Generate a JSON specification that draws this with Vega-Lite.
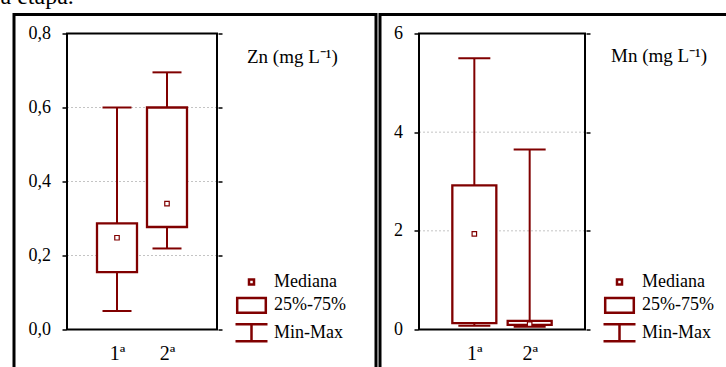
{
  "$schema": "https://vega.github.io/schema/vega-lite/v6.json",
  "background": "white",
  "padding": {"left": 0, "top": -15.5, "right": 0, "bottom": 0},
  "title": {"text": "a etapa.", "anchor": "start", "font": "Liberation Serif", "fontSize": 24, "fontWeight": "normal", "offset": 4, "dx": -12, "color": "black"},
  "spacing": 0,
  "resolve": {"scale": {"x": "independent", "y": "independent", "shape": "independent"}, "legend": {"shape": "independent"}},
  "config": {
    "font": "Liberation Serif",
    "view": {"fill": "#fdf8ed", "stroke": "black", "strokeWidth": 3},
    "axis": {"domain": false, "grid": false, "tickColor": "black", "tickWidth": 1.5, "tickSize": -4, "labelFont": "Liberation Serif", "labelColor": "black", "labelFontSize": 18, "zindex": 1, "labelOverlap": false, "labelFlush": false},
    "legend": {"orient": "none", "title": null, "symbolSize": 400, "symbolStrokeColor": "#800000", "symbolFillColor": "transparent", "symbolStrokeWidth": 2.5, "labelFont": "Liberation Serif", "labelFontSize": 18, "labelColor": "black", "labelOffset": 11, "rowPadding": 1.4, "padding": 0}
  },
  "hconcat": [
    {
      "width": 362,
      "height": 370,
      "resolve": {"axis": {"x": "independent", "y": "independent"}},
      "layer": [
        {
          "data": {"values": [{"panel": "Zn"}]},
          "mark": {"type": "rect", "fill": "white"},
          "encoding": {
            "x": {"datum": 0, "type": "quantitative", "scale": {"domain": [0, 3], "range": [48, 208], "nice": false, "zero": false},
                  "axis": {"orient": "bottom", "offset": -55, "values": [1, 2], "labelExpr": "datum.value == 1 ? '1ª' : '2ª'", "labelFontSize": 20, "labelPadding": 18, "title": null}},
            "x2": {"datum": 3},
            "y": {"datum": 0, "type": "quantitative", "scale": {"domain": [0, 0.8], "range": [315, 19], "nice": false, "zero": false},
                  "axis": {"orient": "left", "offset": -48, "values": [0, 0.2, 0.4, 0.6, 0.8], "labelExpr": "replace(format(datum.value, '.1f'), '.', ',')", "labelPadding": 15.5, "title": null}},
            "y2": {"datum": 0.8}
          }
        },
        {
          "data": {"values": [{"g": 0.2}, {"g": 0.4}, {"g": 0.6}]},
          "mark": {"type": "rule", "color": "#c4c4c4", "strokeWidth": 1, "strokeDash": [2, 2]},
          "encoding": {
            "y": {"field": "g", "type": "quantitative", "axis": null},
            "x": {"datum": 0, "type": "quantitative", "axis": null},
            "x2": {"datum": 3}
          }
        },
        {
          "data": {"name": "zn", "values": [
            {"etapa": 1, "min": 0.05, "q1": 0.155, "med": 0.248, "q3": 0.287, "max": 0.60},
            {"etapa": 2, "min": 0.219, "q1": 0.277, "med": 0.34, "q3": 0.60, "max": 0.695}
          ]},
          "layer": [
            {"mark": {"type": "rule", "color": "#800000", "strokeWidth": 2},
             "encoding": {"x": {"field": "etapa", "type": "quantitative", "axis": null}, "y": {"field": "min", "type": "quantitative", "axis": null}, "y2": {"field": "max"}}},
            {"mark": {"type": "bar", "size": 40, "fill": "white", "stroke": "#800000", "strokeWidth": 2.3},
             "encoding": {"x": {"field": "etapa", "type": "quantitative", "axis": null}, "y": {"field": "q1", "type": "quantitative", "axis": null}, "y2": {"field": "q3"}}},
            {"mark": {"type": "tick", "orient": "horizontal", "size": 29, "thickness": 2, "color": "#800000", "opacity": 1},
             "encoding": {"x": {"field": "etapa", "type": "quantitative", "axis": null}, "y": {"field": "min", "type": "quantitative", "axis": null}}},
            {"mark": {"type": "tick", "orient": "horizontal", "size": 29, "thickness": 2, "color": "#800000", "opacity": 1},
             "encoding": {"x": {"field": "etapa", "type": "quantitative", "axis": null}, "y": {"field": "max", "type": "quantitative", "axis": null}}},
            {"mark": {"type": "point", "shape": "square", "size": 20, "filled": true, "fill": "white", "stroke": "#800000", "strokeWidth": 1.2, "opacity": 1},
             "encoding": {"x": {"field": "etapa", "type": "quantitative", "axis": null}, "y": {"field": "med", "type": "quantitative", "axis": null}}}
          ]
        },
        {
          "data": {"values": [{"panel": "Zn"}]},
          "mark": {"type": "rect", "fill": "transparent", "stroke": "black", "strokeWidth": 2},
          "encoding": {
            "x": {"datum": 0, "type": "quantitative", "axis": {"orient": "top", "offset": -19, "values": [1, 2], "labels": false, "title": null}},
            "x2": {"datum": 3},
            "y": {"datum": 0, "type": "quantitative", "axis": {"orient": "right", "offset": -154, "values": [0, 0.2, 0.4, 0.6, 0.8], "labels": false, "title": null}},
            "y2": {"datum": 0.8}
          }
        },
        {
          "data": {"values": [{"t": "Zn (mg L⁻¹)"}]},
          "mark": {"type": "text", "align": "left", "baseline": "alphabetic", "fontSize": 19, "font": "Liberation Serif", "color": "black"},
          "encoding": {
            "x": {"datum": 3.6, "type": "quantitative", "axis": null},
            "y": {"datum": 0.719, "type": "quantitative", "axis": null},
            "text": {"field": "t"}
          }
        },
        {
          "data": {"values": [{"item": "Mediana"}, {"item": "25%-75%"}, {"item": "Min-Max"}]},
          "transform": [{"filter": "false"}],
          "mark": {"type": "point", "filled": false, "color": "#800000", "opacity": 1},
          "encoding": {
            "shape": {"field": "item", "type": "nominal",
              "scale": {"domain": ["Mediana", "25%-75%", "Min-Max"], "range": ["M-0.25,-0.25H0.25V0.25H-0.25Z", "M-1.43,-0.73H1.43V0.73H-1.43Z", "M-1.6,-0.85H1.6M0,-0.85V0.85M-1.6,0.85H1.6"]},
              "legend": {"legendX": 226, "legendY": 256, "encode": {"symbols": {"update": {"strokeWidth": {"signal": "datum.value === 'Mediana' ? 1 : 2.5"}, "fill": {"signal": "datum.value === 'Mediana' ? 'white' : 'transparent'"}, "stroke": {"value": "#800000"}, "opacity": {"value": 1}}}}}}
          }
        }
      ]
    },
    {
      "width": 360,
      "height": 370,
      "resolve": {"axis": {"x": "independent", "y": "independent"}},
      "layer": [
        {
          "data": {"values": [{"panel": "Mn"}]},
          "mark": {"type": "rect", "fill": "white"},
          "encoding": {
            "x": {"datum": 0, "type": "quantitative", "scale": {"domain": [0, 3], "range": [34, 210], "nice": false, "zero": false},
                  "axis": {"orient": "bottom", "offset": -55, "values": [1, 2], "labelExpr": "datum.value == 1 ? '1ª' : '2ª'", "labelFontSize": 20, "labelPadding": 18, "title": null}},
            "x2": {"datum": 3},
            "y": {"datum": 0, "type": "quantitative", "scale": {"domain": [0, 6], "range": [315, 19], "nice": false, "zero": false},
                  "axis": {"orient": "left", "offset": -34, "values": [0, 2, 4, 6], "format": "d", "labelPadding": 15.5, "title": null}},
            "y2": {"datum": 6}
          }
        },
        {
          "data": {"values": [{"g": 2}, {"g": 4}]},
          "mark": {"type": "rule", "color": "#c4c4c4", "strokeWidth": 1, "strokeDash": [2, 2]},
          "encoding": {
            "y": {"field": "g", "type": "quantitative", "axis": null},
            "x": {"datum": 0, "type": "quantitative", "axis": null},
            "x2": {"datum": 3}
          }
        },
        {
          "data": {"name": "mn", "values": [
            {"etapa": 1, "min": 0.075, "q1": 0.13, "med": 1.94, "q3": 2.92, "max": 5.5},
            {"etapa": 2, "min": 0.055, "q1": 0.095, "med": 0.107, "q3": 0.176, "max": 3.65}
          ]},
          "layer": [
            {"mark": {"type": "rule", "color": "#800000", "strokeWidth": 2},
             "encoding": {"x": {"field": "etapa", "type": "quantitative", "axis": null}, "y": {"field": "min", "type": "quantitative", "axis": null}, "y2": {"field": "max"}}},
            {"mark": {"type": "bar", "size": 44, "fill": "white", "stroke": "#800000", "strokeWidth": 2.3},
             "encoding": {"x": {"field": "etapa", "type": "quantitative", "axis": null}, "y": {"field": "q1", "type": "quantitative", "axis": null}, "y2": {"field": "q3"}}},
            {"mark": {"type": "tick", "orient": "horizontal", "size": 32, "thickness": 2, "color": "#800000", "opacity": 1},
             "encoding": {"x": {"field": "etapa", "type": "quantitative", "axis": null}, "y": {"field": "min", "type": "quantitative", "axis": null}}},
            {"mark": {"type": "tick", "orient": "horizontal", "size": 32, "thickness": 2, "color": "#800000", "opacity": 1},
             "encoding": {"x": {"field": "etapa", "type": "quantitative", "axis": null}, "y": {"field": "max", "type": "quantitative", "axis": null}}},
            {"mark": {"type": "point", "shape": "square", "size": 20, "filled": true, "fill": "white", "stroke": "#800000", "strokeWidth": 1.2, "opacity": 1},
             "encoding": {"x": {"field": "etapa", "type": "quantitative", "axis": null}, "y": {"field": "med", "type": "quantitative", "axis": null}}}
          ]
        },
        {
          "data": {"values": [{"panel": "Mn"}]},
          "mark": {"type": "rect", "fill": "transparent", "stroke": "black", "strokeWidth": 2},
          "encoding": {
            "x": {"datum": 0, "type": "quantitative", "axis": {"orient": "top", "offset": -19, "values": [1, 2], "labels": false, "title": null}},
            "x2": {"datum": 3},
            "y": {"datum": 0, "type": "quantitative", "axis": {"orient": "right", "offset": -150, "values": [0, 2, 4, 6], "labels": false, "title": null}},
            "y2": {"datum": 6}
          }
        },
        {
          "data": {"values": [{"t": "Mn (mg L⁻¹)"}]},
          "mark": {"type": "text", "align": "left", "baseline": "alphabetic", "fontSize": 19, "font": "Liberation Serif", "color": "black"},
          "encoding": {
            "x": {"datum": 3.47, "type": "quantitative", "axis": null},
            "y": {"datum": 5.43, "type": "quantitative", "axis": null},
            "text": {"field": "t"}
          }
        },
        {
          "data": {"values": [{"item": "Mediana"}, {"item": "25%-75%"}, {"item": "Min-Max"}]},
          "transform": [{"filter": "false"}],
          "mark": {"type": "point", "filled": false, "color": "#800000", "opacity": 1},
          "encoding": {
            "shape": {"field": "item", "type": "nominal",
              "scale": {"domain": ["Mediana", "25%-75%", "Min-Max"], "range": ["M-0.25,-0.25H0.25V0.25H-0.25Z", "M-1.43,-0.73H1.43V0.73H-1.43Z", "M-1.6,-0.85H1.6M0,-0.85V0.85M-1.6,0.85H1.6"]},
              "legend": {"legendX": 228, "legendY": 256, "encode": {"symbols": {"update": {"strokeWidth": {"signal": "datum.value === 'Mediana' ? 1 : 2.5"}, "fill": {"signal": "datum.value === 'Mediana' ? 'white' : 'transparent'"}, "stroke": {"value": "#800000"}, "opacity": {"value": 1}}}}}}
          }
        }
      ]
    }
  ]
}
